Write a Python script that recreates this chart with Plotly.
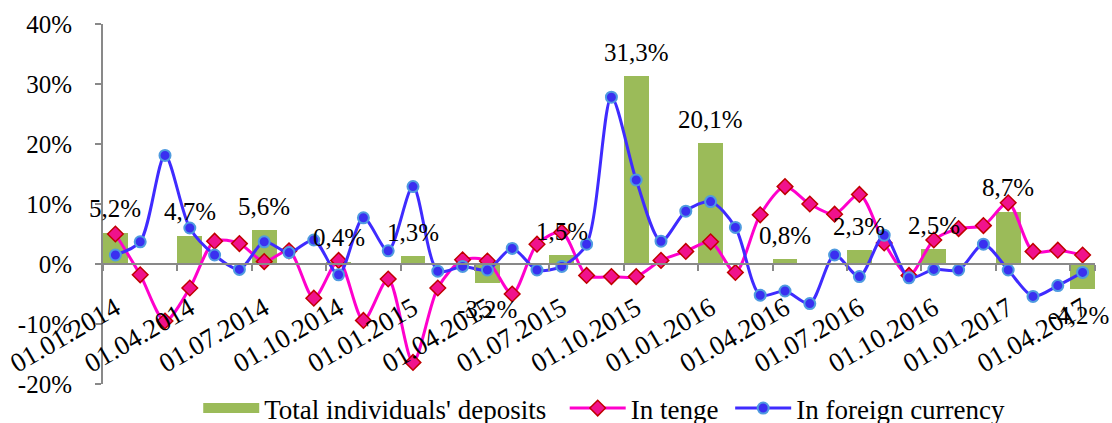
import plotly.graph_objects as go

# monthly categories 01.01.2014 .. 01.04.2017
months = [f"01.{m:02d}.{y}" for y in (2014, 2015, 2016, 2017) for m in range(1, 13)][:40]

quarters = ["01.01.2014", "01.04.2014", "01.07.2014", "01.10.2014",
            "01.01.2015", "01.04.2015", "01.07.2015", "01.10.2015",
            "01.01.2016", "01.04.2016", "01.07.2016", "01.10.2016",
            "01.01.2017", "01.04.2017"]
total_deposits = [5.2, 4.7, 5.6, 0.4, 1.3, -3.2, 1.5, 31.3, 20.1, 0.8, 2.3, 2.5, 8.7, -4.2]

in_tenge = [5.0, -1.8, -9.5, -4.0, 3.8, 3.4, 0.4, 2.2, -5.7, 0.6,
            -9.4, -2.5, -16.4, -4.0, 0.7, 0.5, -5.0, 3.3, 5.3, -1.9,
            -2.1, -2.1, 0.6, 2.1, 3.7, -1.4, 8.2, 12.9, 10.0, 8.3,
            11.6, 3.5, -1.9, 4.0, 5.9, 6.4, 10.2, 2.1, 2.3, 1.5]

in_foreign = [1.5, 3.7, 18.1, 6.0, 1.5, -0.9, 3.7, 1.9, 4.0, -1.8,
              7.7, 2.2, 12.9, -1.2, -0.4, -1.0, 2.6, -1.0, -0.4, 3.3,
              27.8, 14.0, 3.8, 8.8, 10.4, 6.1, -5.2, -4.5, -6.6, 1.5,
              -2.1, 4.8, -2.3, -0.9, -1.0, 3.3, -1.0, -5.4, -3.6, -1.4]

y_tick_vals = [-20, -10, 0, 10, 20, 30, 40]
y_tick_text = ["-20%", "-10%", "0%", "10%", "20%", "30%", "40%"]

FONT = "Liberation Serif"
FS = 25
y_min, y_max = -20, 40
BAR_COLOR = "#9BBB59"
NB = "\u00a0"

fig = go.Figure()
fig.add_trace(go.Bar(
    x=quarters, y=total_deposits, name="Total individuals' deposits",
    marker=dict(color=BAR_COLOR, line=dict(width=0)), width=1.0,
    showlegend=False,
))
# legend stand-in for the bar series (wide flat swatch like the reference)
fig.add_trace(go.Scatter(
    x=[None], y=[None], name="Total individuals' deposits" + NB * 2, mode="lines",
    line=dict(color=BAR_COLOR, width=13),
))
fig.add_trace(go.Scatter(
    x=months, y=in_tenge, name="In tenge" + NB, mode="lines+markers",
    line=dict(color="#FF00CC", width=3, shape="spline", smoothing=0.8),
    marker=dict(symbol="diamond", size=12, color="#F0128C",
                line=dict(color="#C00000", width=1.5)),
))
fig.add_trace(go.Scatter(
    x=months, y=in_foreign, name="In foreign currency", mode="lines+markers",
    line=dict(color="#3F2BFF", width=3, shape="spline", smoothing=0.8),
    marker=dict(symbol="circle", size=11, color="#3A2FF0",
                line=dict(color="#4F9BE0", width=2)),
))

for k, (q, v) in enumerate(zip(quarters, total_deposits)):
    fig.add_annotation(
        x=q, y=v, text=f"{v:.1f}%".replace(".", ","), showarrow=False,
        yanchor="middle", yshift=24 if v >= 0 else -26,
        xshift=-4 if k == len(quarters) - 1 else 0,
        font=dict(family=FONT, size=FS, color="black"),
    )

H = 445
fig.update_layout(
    width=1112, height=H,
    margin=dict(l=103, r=17, t=24, b=H - 388),
    paper_bgcolor="white", plot_bgcolor="white",
    font=dict(family=FONT, size=FS, color="black"),
    bargap=0,
    showlegend=True,
    legend=dict(orientation="h", x=0.096, xanchor="left", y=-0.068, yanchor="middle",
                font=dict(family=FONT, size=27), bgcolor="rgba(0,0,0,0)",
                itemwidth=56, tracegroupgap=0),
    xaxis=dict(
        type="category", categoryorder="array", categoryarray=months,
        range=[-0.5, 39.5], tickmode="array", tickvals=quarters, ticktext=quarters,
        tickson="boundaries", ticks="outside", ticklen=6, tickcolor="#898989",
        tickwidth=1.5, showline=True, linecolor="#898989", linewidth=2,
        showgrid=False, zeroline=False, tickangle=-30, automargin=False,
        anchor="free", position=(0 - y_min) / (y_max - y_min),
        ticklabelstandoff=17,
        tickfont=dict(family=FONT, size=27),
    ),
    yaxis=dict(
        range=[y_min, y_max], tickmode="array", tickvals=y_tick_vals, ticktext=y_tick_text,
        ticks="outside", ticklen=6, tickcolor="#898989", tickwidth=1.5,
        showline=True, linecolor="#898989", linewidth=2, automargin=False,
        showgrid=False, zeroline=False, ticklabelstandoff=18,
        tickfont=dict(family=FONT, size=FS),
    ),
)

fig.write_html(
    "out.html",
    config={"displayModeBar": False},
    post_script="document.body.style.margin='0';document.body.style.padding='0';"
                "document.body.style.overflow='hidden';",
)
